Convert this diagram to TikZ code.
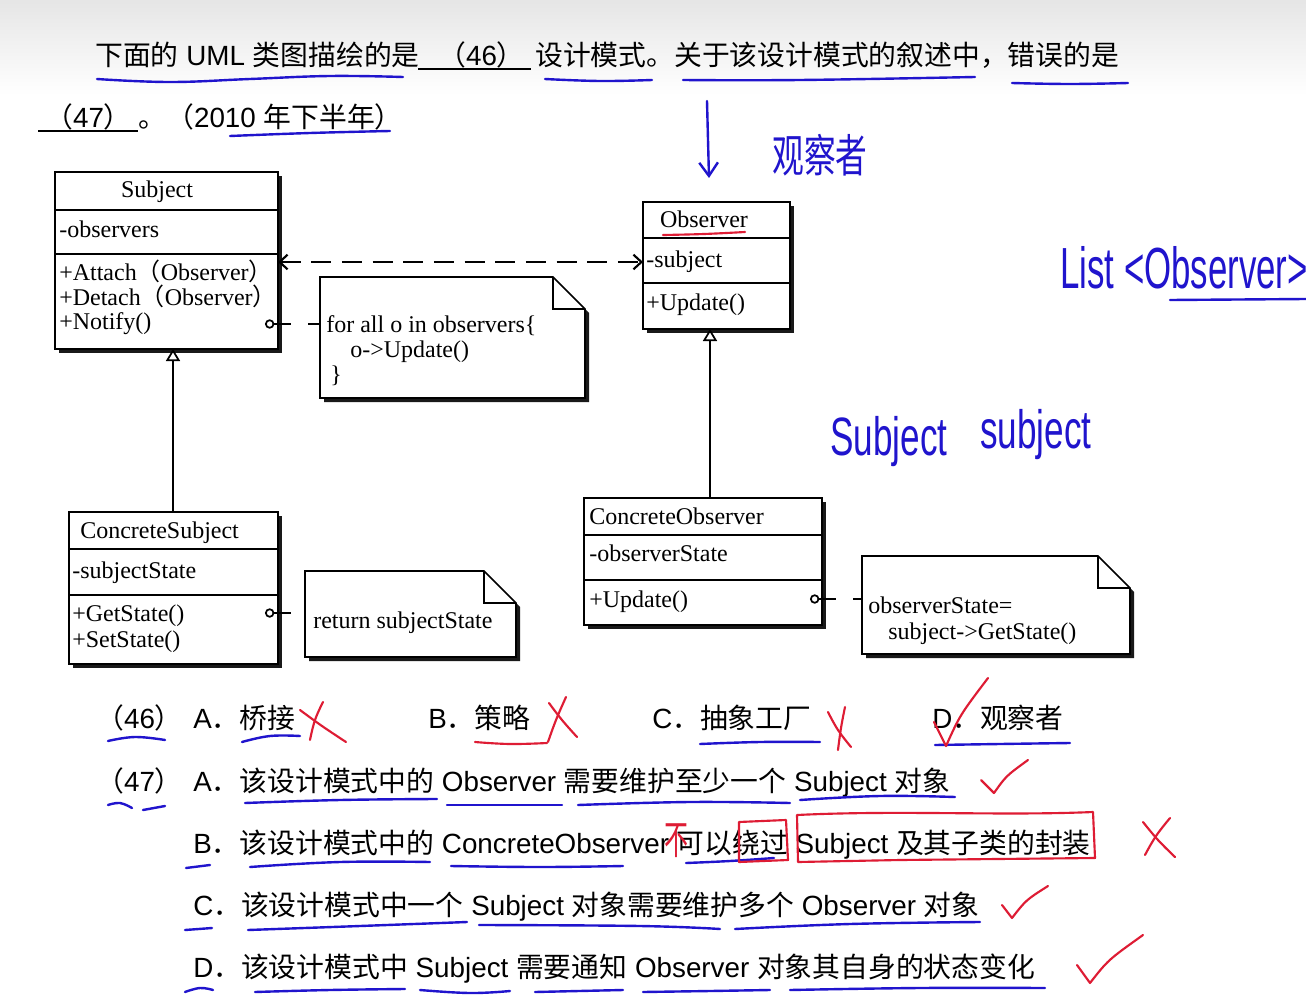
\documentclass[tikz,border=0pt]{standalone}
\usepackage{fontspec}
\usepackage{graphicx}
\setmainfont{Liberation Sans}
\newfontfamily\cjk{Noto Sans CJK SC}
\newfontfamily\uml{Liberation Serif}
\usetikzlibrary{arrows.meta,shadows}
\definecolor{inkblue}{RGB}{32,20,205}
\definecolor{inkred}{RGB}{222,28,52}

\begin{document}
\begin{tikzpicture}[x=0.75pt, y=-0.75pt,
    question/.style={anchor=base west, inner sep=0, font=\fontsize{20.85}{25}\selectfont},
    classbox/.style={draw, line width=1.3pt, fill=white, inner sep=0, outer sep=0,
        drop shadow={shadow xshift=3pt, shadow yshift=-3pt, fill=black, opacity=0.9}},
    rule/.style={line width=1.3pt},
    member/.style={anchor=base west, inner sep=0, font=\uml\fontsize{18}{20}\selectfont},
    notebody/.style={inner sep=0, outer sep=0},
    noteline/.style={draw, line width=1.3pt, fill=white, line join=miter,
        drop shadow={shadow xshift=3pt, shadow yshift=-3pt, fill=black, opacity=0.9}},
    notelink/.style={line width=1.4pt, dash pattern=on 13pt off 13pt,
        {Circle[open, length=7pt, width=7pt, line width=1.3pt]}-},
    inherit/.style={line width=1.3pt, -{Triangle[open, length=9pt, width=10.5pt, line width=1.3pt]}},
    assoc/.style={line width=1.6pt, dash pattern=on 15pt off 8pt,
        {Straight Barb[length=6pt, width=11pt]}-{Straight Barb[length=6pt, width=11pt]}},
    inkb/.style={inkblue, line width=1.8pt, line cap=round, line join=round},
    inkr/.style={inkred, line width=1.6pt, line cap=round, line join=round},
    hand/.style={inner sep=0, anchor=base west, inkblue},
]
    % Page, grey top edge of the slide
    \useasboundingbox (0,0) rectangle (1306,1002);
    \fill [white] (0,0) rectangle (1306,1002);
    \shade [top color=black!10, bottom color=white] (0,0) rectangle (1306,95);

    % Question
    \node [question] (stem1) at (95,65.5) {{\cjk 下面的} UML {\cjk 类图描绘的是}};
    \node [question] (blank46) at (438,65.5) {{\cjk （}46{\cjk ）}};
    \draw [line width=1.5pt] (418,69) -- (531,69);
    \node [question] (stem2) at (535,65.5) {{\cjk 设计模式。关于该设计模式的叙述中，错误的是}};
    \node [question] (blank47) at (45,127.5) {{\cjk （}47{\cjk ）}};
    \draw [line width=1.5pt] (38,131) -- (138,131);
    \node [question] (stop) at (138,127.5) {{\cjk 。}};
    \node [question] (year) at (166,127.5) {{\cjk （}2010 {\cjk 年下半年）}};

    % Subject
    \node [classbox, minimum width=167.25pt, minimum height=132.75pt] (subject) at (166.5,260.5) {};
    \draw [rule] ([yshift=-28.5pt]subject.north west) -- ([yshift=-28.5pt]subject.north east);
    \draw [rule] ([yshift=-61.5pt]subject.north west) -- ([yshift=-61.5pt]subject.north east);
    \node [member, anchor=base] (subjectname) at (157,198) {Subject};
    \node [member] (observers) at (59,238) {-observers};
    \node [member] (attach) at (59,280) {+Attach{\cjk （}Observer{\cjk ）}};
    \node [member] (detach) at (59,305) {+Detach{\cjk （}Observer{\cjk ）}};
    \node [member] (notify) at (59,329) {+Notify()};

    % Observer
    \node [classbox, minimum width=110.25pt, minimum height=95.25pt] (observer) at (716.5,265.5) {};
    \draw [rule] ([yshift=-27pt]observer.north west) -- ([yshift=-27pt]observer.north east);
    \draw [rule] ([yshift=-60.75pt]observer.north west) -- ([yshift=-60.75pt]observer.north east);
    \node [member, anchor=base] (observername) at (704,228) {Observer};
    \node [member] (subjectref) at (646,267) {-subject};
    \node [member] (update) at (646,310) {+Update()};

    % ConcreteSubject
    \node [classbox, minimum width=156.75pt, minimum height=114pt] (csubject) at (173.5,588) {};
    \draw [rule] ([yshift=-27.75pt]csubject.north west) -- ([yshift=-27.75pt]csubject.north east);
    \draw [rule] ([yshift=-62.25pt]csubject.north west) -- ([yshift=-62.25pt]csubject.north east);
    \node [member] (csubjectname) at (80,538) {ConcreteSubject};
    \node [member] (subjectstate) at (72,578) {-subjectState};
    \node [member] (getstate) at (72,621) {+GetState()};
    \node [member] (setstate) at (72,647) {+SetState()};

    % ConcreteObserver
    \node [classbox, minimum width=178.5pt, minimum height=95.25pt] (cobserver) at (703,561.5) {};
    \draw [rule] ([yshift=-27.75pt]cobserver.north west) -- ([yshift=-27.75pt]cobserver.north east);
    \draw [rule] ([yshift=-61.5pt]cobserver.north west) -- ([yshift=-61.5pt]cobserver.north east);
    \node [member] (cobservername) at (589,524) {ConcreteObserver};
    \node [member] (observerstate) at (589,561) {-observerState};
    \node [member] (cupdate) at (589,607) {+Update()};

    % Notes
    \node [notebody, minimum width=198.75pt, minimum height=90.75pt] (note1) at (452.5,337.5) {};
    \node [notebody, minimum width=158.25pt, minimum height=64.5pt] (note2) at (410.5,614) {};
    \node [notebody, minimum width=201pt, minimum height=73.5pt] (note3) at (996,605) {};
    \foreach \n in {note1,note2,note3} {
        \draw [noteline] (\n.north west) -- ([xshift=-24pt]\n.north east)
            -- ([yshift=-24pt]\n.north east) -- (\n.south east) -- (\n.south west) -- cycle;
        \draw [rule] ([xshift=-24pt]\n.north east) |- ([yshift=-24pt]\n.north east);
    }
    \node [member] (loop) at (326,332) {for all o in observers\{};
    \node [member] (loopbody) at (350,357) {o->Update()};
    \node [member] (loopend) at (330,382) {\}};
    \node [member] (retstate) at (313,628) {return subjectState};
    \node [member] (assign) at (868,613) {observerState=};
    \node [member] (assignrhs) at (888,639) {subject->GetState()};

    % Connectors
    \coordinate (assocy) at (0,262);
    \draw [assoc] (subject.east |- assocy) -- (observer.west |- assocy);
    \coordinate (subjfoot) at (173,512);
    \draw [inherit] (subjfoot) -- (subjfoot |- subject.south);
    \coordinate (obsfoot) at (710,498);
    \draw [inherit] (obsfoot) -- (obsfoot |- observer.south);
    \coordinate (notifypt) at (265,324);
    \draw [notelink] (notifypt) -- (note1.west |- notifypt);
    \coordinate (getpt) at (265,613);
    \draw [notelink] (getpt) -- (note2.west |- getpt);
    \coordinate (updatept) at (810,599);
    \draw [notelink] (updatept) -- (note3.west |- updatept);

    % Options
    \node [question] (no46) at (96,728.5) {{\cjk （}46{\cjk ）}};
    \node [question] (opt46a) at (193,728.5) {A{\cjk ．桥接}};
    \node [question] (opt46b) at (428,728.5) {B{\cjk ．策略}};
    \node [question] (opt46c) at (652,728.5) {C{\cjk ．抽象工厂}};
    \node [question] (opt46d) at (932,728.5) {D{\cjk ．观察者}};
    \node [question] (no47) at (96,791.5) {{\cjk （}47{\cjk ）}};
    \node [question] (opt47a) at (193,791.5) {A{\cjk ．该设计模式中的} Observer {\cjk 需要维护至少一个} Subject {\cjk 对象}};
    \node [question] (opt47b) at (193,853.5) {B{\cjk ．该设计模式中的} ConcreteObserver {\cjk 可以绕过} Subject {\cjk 及其子类的封装}};
    \node [question] (opt47c) at (193,915.5) {C{\cjk ．该设计模式中一个} Subject {\cjk 对象需要维护多个} Observer {\cjk 对象}};
    \node [question] (opt47d) at (193,977.5) {D{\cjk ．该设计模式中} Subject {\cjk 需要通知} Observer {\cjk 对象其自身的状态变化}};

    % Blue pen notes
    \draw [inkb, -{Straight Barb[length=10pt, width=14pt]}] (707,101) -- (709,178);
    \node [hand, anchor=center] (penname) at (820,155) {\cjk\fontsize{34}{34}\selectfont\scalebox{0.7}[1]{观察者}};
    \node [hand] (penlist) at (1060,288) {\fontsize{43.5}{44}\selectfont\scalebox{0.6}[1]{List <Observer>}};
    \node [hand] (pensubj) at (830,455) {\fontsize{40.5}{41}\selectfont\scalebox{0.65}[1]{Subject}};
    \node [hand] (pensubj2) at (980,448) {\fontsize{40.5}{41}\selectfont\scalebox{0.65}[1]{subject}};
    \draw [inkb] (1170,300) -- (1306,299);

    % Blue underlines
    \draw [inkb] plot [smooth, tension=0.7] coordinates {(97,79) (170,82) (250,79) (330,76) (403,77)};
    \draw [inkb] plot [smooth, tension=0.7] coordinates {(545,79) (600,81) (652,80)};
    \draw [inkb] plot [smooth, tension=0.7] coordinates {(683,80) (800,80) (975,77)};
    \draw [inkb] plot [smooth, tension=0.7] coordinates {(1012,83) (1070,84) (1128,83)};
    \draw [inkb] plot [smooth, tension=0.7] coordinates {(230,136) (310,133) (390,131)};
    \draw [inkb] plot [smooth, tension=0.7] coordinates {(108,741) (135,737) (165,740)};
    \draw [inkb] plot [smooth, tension=0.7] coordinates {(242,742) (270,736) (300,736)};
    \draw [inkb] plot [smooth, tension=0.7] coordinates {(700,744) (760,742) (820,742)};
    \draw [inkb] plot [smooth, tension=0.7] coordinates {(935,745) (1000,744) (1070,743)};
    \draw [inkb] plot [smooth, tension=0.7] coordinates {(108,805) (120,803) (132,808)};
    \draw [inkb] plot [smooth, tension=0.7] coordinates {(143,810) (165,806)};
    \draw [inkb] plot [smooth, tension=0.7] coordinates {(245,803) (340,800) (437,799)};
    \draw [inkb] plot [smooth, tension=0.7] coordinates {(447,805) (562,805)};
    \draw [inkb] plot [smooth, tension=0.7] coordinates {(578,805) (690,802) (790,803)};
    \draw [inkb] plot [smooth, tension=0.7] coordinates {(800,800) (880,796) (955,797)};
    \draw [inkb] plot [smooth, tension=0.7] coordinates {(186,868) (210,865)};
    \draw [inkb] plot [smooth, tension=0.7] coordinates {(250,867) (340,862) (430,862)};
    \draw [inkb] plot [smooth, tension=0.7] coordinates {(451,866) (540,867) (623,866)};
    \draw [inkb] plot [smooth, tension=0.7] coordinates {(686,863) (730,861) (774,858)};
    \draw [inkb] plot [smooth, tension=0.7] coordinates {(185,930) (212,928)};
    \draw [inkb] plot [smooth, tension=0.7] coordinates {(248,930) (360,926) (467,922)};
    \draw [inkb] plot [smooth, tension=0.7] coordinates {(479,925) (640,926) (720,929)};
    \draw [inkb] plot [smooth, tension=0.7] coordinates {(735,929) (850,924) (980,922)};
    \draw [inkb] plot [smooth, tension=0.7] coordinates {(185,992) (200,988) (213,990)};
    \draw [inkb] plot [smooth, tension=0.7] coordinates {(255,992) (330,990) (405,989)};
    \draw [inkb] plot [smooth, tension=0.7] coordinates {(420,990) (470,993) (510,991)};
    \draw [inkb] plot [smooth, tension=0.7] coordinates {(535,992) (623,990)};
    \draw [inkb] plot [smooth, tension=0.7] coordinates {(643,992) (710,991) (770,990)};
    \draw [inkb] plot [smooth, tension=0.7] coordinates {(790,990) (920,988) (1045,988)};

    % Red pen marks
    \draw [inkr] plot [smooth, tension=0.7] coordinates {(663,235) (704,234) (745,232)};
    \draw [inkr] plot [smooth, tension=0.7] coordinates {(300,710) (322,726) (346,742)};
    \draw [inkr] plot [smooth, tension=0.7] coordinates {(323,702) (315,720) (310,740)};
    \draw [inkr] plot [smooth, tension=0.7] coordinates {(475,742) (510,744) (547,743)};
    \draw [inkr] plot [smooth, tension=0.7] coordinates {(549,703) (562,720) (577,737)};
    \draw [inkr] plot [smooth, tension=0.7] coordinates {(566,697) (556,720) (548,742)};
    \draw [inkr] plot [smooth, tension=0.7] coordinates {(828,712) (838,730) (851,747)};
    \draw [inkr] plot [smooth, tension=0.7] coordinates {(845,707) (841,728) (838,750)};
    \draw [inkr] (934,722) -- (946,746) .. controls (960,715) .. (988,678);
    \draw [inkr] (981,780) -- (994,793) .. controls (1006,776) .. (1028,760);
    \draw [inkr] (1002,905) -- (1012,918) .. controls (1026,900) .. (1048,886);
    \draw [inkr] (1077,965) -- (1090,983) .. controls (1108,960) .. (1143,935);
    \draw [inkr] plot [smooth, tension=0.7] coordinates {(1143,822) (1158,840) (1175,857)};
    \draw [inkr] plot [smooth, tension=0.7] coordinates {(1170,818) (1156,836) (1145,855)};
    \node [inkred, inner sep=0] (penbu) at (676,841) {\cjk\fontsize{30}{30}\selectfont\scalebox{0.6}[1]{不}};
    \draw [inkr] (739,822) -- (786,820) -- (788,860) -- (739,862) -- cycle;
    \draw [inkr] (798,862) -- (797,815) .. controls (900,810) and (1000,816) .. (1093,812)
        -- (1095,858) -- (900,860) -- (798,862);
\end{tikzpicture}
\end{document}
